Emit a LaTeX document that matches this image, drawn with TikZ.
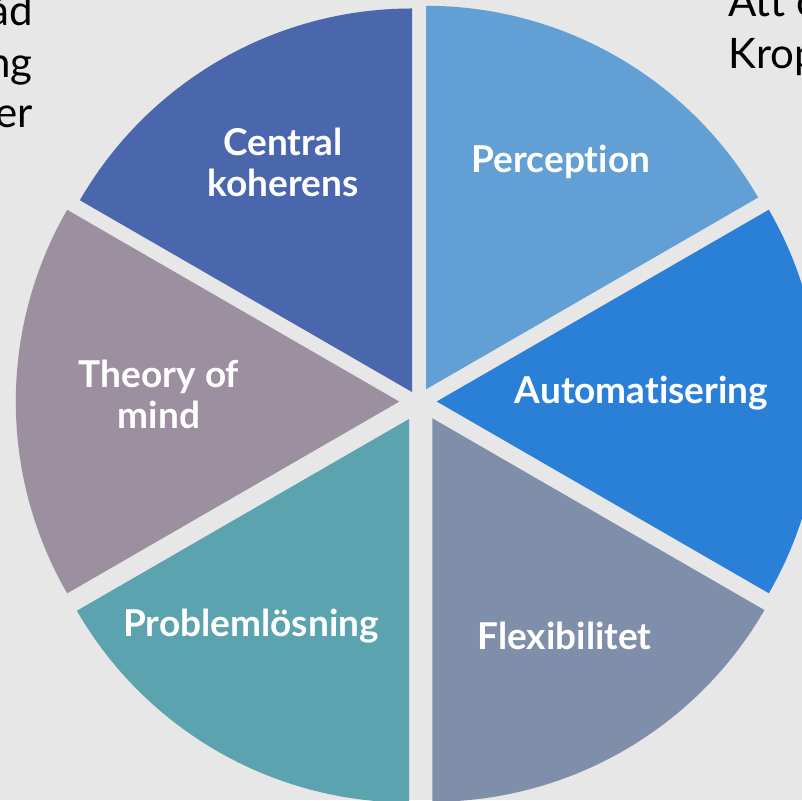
\documentclass[tikz,border=0pt]{standalone}
\usepackage{fontspec}
\setmainfont{Lato}[Ligatures=NoCommon]
\definecolor{bgc}{HTML}{E7E7E7}
\definecolor{ckc}{HTML}{4A67AD}
\definecolor{pec}{HTML}{629FD4}
\definecolor{auc}{HTML}{2A7FD6}
\definecolor{flc}{HTML}{7F8FA9}
\definecolor{prc}{HTML}{5BA3AF}
\definecolor{tmc}{HTML}{9C8FA0}
\tikzset{
  lbl/.style={text=white, font=\fontsize{37}{41}\selectfont\bfseries, align=center, inner sep=0pt, anchor=base},
  side/.style={text=black, font=\fontsize{42}{52}\selectfont, inner sep=0pt}
}
\newcommand{\wedgeat}[4]{% color, apex, start, end
  \fill[#1] (#2) -- ++(#3:383.5pt) arc[start angle=#3, end angle=#4, radius=383.5pt] -- cycle;}
\begin{document}
\begin{tikzpicture}[x=1pt,y=1pt]
\useasboundingbox (0,0) rectangle (802,800);
\clip (0,0) rectangle (802,800);
\fill[bgc] (0,0) rectangle (802,800);
\coordinate (ckA) at (412,408);
\coordinate (peA) at (426,410.7);
\coordinate (auA) at (436.7,398.5);
\coordinate (flA) at (432.3,381.7);
\coordinate (prA) at (409,381);
\coordinate (tmA) at (399.3,398.4);
\wedgeat{ckc}{ckA}{90}{150}
\wedgeat{pec}{peA}{30}{90}
\wedgeat{auc}{auA}{-30}{30}
\wedgeat{flc}{flA}{-90}{-30}
\wedgeat{prc}{prA}{-150}{-90}
\wedgeat{tmc}{tmA}{150}{210}
\node[lbl] (ck) at (283,603) {Central\\koherens};
\node[lbl] (pe) at (561,627) {Perception};
\node[lbl] (au) at (641.5,396) {Automatisering};
\node[lbl] (fl) at (564.5,150) {Flexibilitet};
\node[lbl] (pr) at (251,164) {Problemlösning};
\node[lbl] (tm) at (159,371) {Theory of\\mind};
\node[side, anchor=base east] (l1) at (33,774) {åd};
\node[side, anchor=base east] (l2) at (33,722) {ng};
\node[side, anchor=base east] (l3) at (33,672) {er};
\node[side, anchor=base west] (r1) at (728,783) {Att o};
\node[side, anchor=base west] (r2) at (728,731) {Krop};
\end{tikzpicture}
\end{document}
